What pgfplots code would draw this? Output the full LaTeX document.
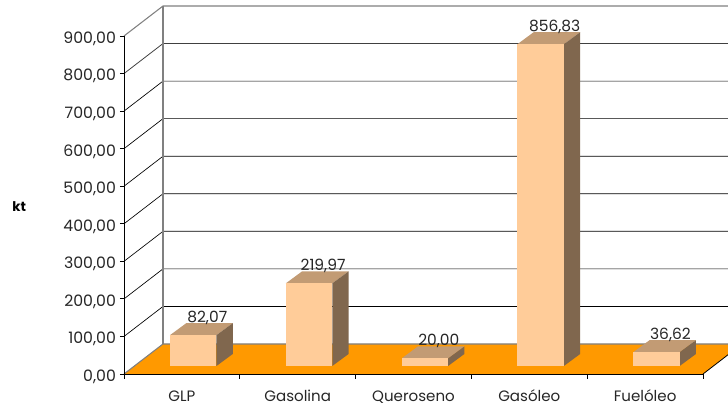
\documentclass[border=0pt]{standalone}
\usepackage{fontspec}
\setmainfont{Poppins}
\usepackage{pgfplots}
\usepackage{pgfplotstable}
\pgfplotsset{compat=1.18}

\definecolor{barfront}{HTML}{FFCC99}
\definecolor{bartop}{HTML}{C29B74}
\definecolor{barside}{HTML}{80674E}
\definecolor{floorcol}{HTML}{FF9900}

% left edge of bar, value label position, value
\pgfplotstableread{
x      v       lab
0.719  82.07   82,07
1.719  219.97  219,97
2.719  20.00   20,00
3.719  856.83  856,83
4.719  36.62   36,62
}\labeltable

% one oblique bar: #1 left edge of the front face, #2 value
\newcommand{\threedbar}[2]{%
  \pgfmathsetmacro{\xr}{#1+0.4016}%
  \pgfmathsetmacro{\xa}{#1+0.1408}%
  \pgfmathsetmacro{\xb}{\xr+0.1408}%
  \pgfmathsetmacro{\vt}{21.3+#2}%
  \pgfmathsetmacro{\vb}{\vt+32}%
  \addplot[draw=none, fill=bartop] coordinates {(#1,\vt) (\xr,\vt) (\xb,\vb) (\xa,\vb)} --cycle;
  \addplot[draw=none, fill=barside] coordinates {(\xr,21.3) (\xb,53.3) (\xb,\vb) (\xr,\vt)} --cycle;
  \addplot[draw=none, fill=barfront] coordinates {(#1,21.3) (\xr,21.3) (\xr,\vt) (#1,\vt)} --cycle;
}

\begin{document}
\begin{tikzpicture}
\path[use as bounding box] (-93pt,-24pt) rectangle (453pt,280.5pt);
\begin{axis}[
    scale only axis,
    width=434.25pt,
    height=253.5pt,
    xmin=0, xmax=5,
    ymin=0, ymax=900,
    clip=false,
    axis on top,
    axis x line=bottom,
    axis y line=left,
    axis line style={-, black, line width=0.7pt},
    ytick={0,100,...,900},
    xtick={0.5,1.5,2.5,3.5,4.5},
    xticklabels={GLP,Gasolina,Queroseno,Gasóleo,Fuelóleo},
    minor xtick={0,1,2,3,4,5},
    major x tick style={draw=none},
    minor x tick style={black, line width=0.6pt},
    major y tick style={black, line width=0.6pt},
    minor tick length=3.5pt,
    major tick length=3pt,
    tick align=outside,
    tick pos=left,
    /pgf/number format/assume math mode=true,
    y tick label style={yshift=-2pt, xshift=0.5pt, font=\fontsize{11.8}{14}\selectfont, /pgf/number format/.cd, fixed, fixed zerofill, precision=2, use comma, 1000 sep={}},
    tick label style={text=black!85},
    x tick label style={yshift=-5.5pt, text height=8.6pt, text depth=2.5pt, font=\fontsize{11.3}{14}\selectfont},
    ylabel={\textbf{kt}},
    every axis y label/.style={at={(rel axis cs:-0.181,0.494)}, anchor=center, font=\fontsize{10}{12}\selectfont},
]
% floor, cut at the right edge of the picture
\addplot[draw=none, fill=floorcol] coordinates {(0,0) (5,0) (5.216,51.2) (5.216,79.9) (0.3368,79.9)} --cycle;
\addplot[black, line width=0.6pt] coordinates {(5,0) (5.216,51.2)};
\addplot[gray, line width=0.8pt] coordinates {(0,0) (0.3368,79.9) (5.216,79.9)};
% wall lines
\addplot[black, line width=0.5pt] coordinates {(0,100) (0.3368,179.9) (5.216,179.9)};
\addplot[black, line width=0.5pt] coordinates {(0,200) (0.3368,279.9) (5.216,279.9)};
\addplot[black, line width=0.5pt] coordinates {(0,300) (0.3368,379.9) (5.216,379.9)};
\addplot[black, line width=0.5pt] coordinates {(0,400) (0.3368,479.9) (5.216,479.9)};
\addplot[black, line width=0.5pt] coordinates {(0,500) (0.3368,579.9) (5.216,579.9)};
\addplot[black, line width=0.5pt] coordinates {(0,600) (0.3368,679.9) (5.216,679.9)};
\addplot[black, line width=0.5pt] coordinates {(0,700) (0.3368,779.9) (5.216,779.9)};
\addplot[black!75, line width=0.6pt] coordinates {(0,800) (0.3368,879.9) (5.216,879.9)};
\addplot[gray, line width=0.8pt] coordinates {(0,900) (0.3368,979.9) (5.216,979.9)};
\addplot[gray, line width=0.8pt] coordinates {(0.3368,79.9) (0.3368,979.9)};
% bars
\threedbar{0.397}{82.07}
\threedbar{1.397}{219.97}
\threedbar{2.397}{20.00}
\threedbar{3.397}{856.83}
\threedbar{4.397}{36.62}
% value labels on the top back edge
\addplot[only marks, mark=*, mark size=0pt, draw=none, fill=none,
    point meta=explicit symbolic,
    nodes near coords,
    every node near coord/.style={anchor=base, inner sep=0pt, yshift=0.5pt, font=\fontsize{11.6}{14}\selectfont, text=black!85},
  ] table[x=x, y expr=\thisrow{v}+53.3, meta=lab] {\labeltable};
\end{axis}
\end{tikzpicture}
\end{document}
